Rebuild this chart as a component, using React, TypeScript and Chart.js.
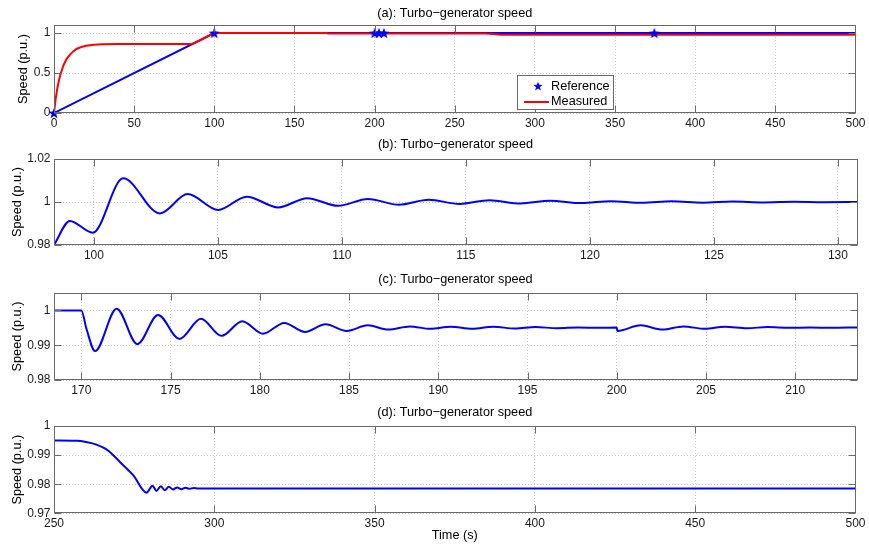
import React, { useEffect, useRef } from "react";
import { Chart, registerables } from "chart.js";

Chart.register(...registerables);

// ---------- Panel (a) ----------
const refTimeA = [0, 100, 200, 202.7, 205.8, 374.5, 500];
const refSpeedA = [0, 1, 1, 1, 1, 1, 1];
const refMarkerA = [true, true, true, true, true, true, false];
const measTimeA = [0, 1, 2, 3, 4, 5, 6, 8, 10, 12, 14, 17, 20, 25, 30, 40, 50, 86.5, 100, 170, 171, 269, 274, 279, 283, 500];
const measSpeedA = [0, 0.17, 0.3, 0.4, 0.48, 0.54, 0.6, 0.68, 0.73, 0.77, 0.8, 0.825, 0.84, 0.852, 0.858, 0.862, 0.863, 0.864, 1.0, 1.0, 0.995, 0.995, 0.986, 0.978, 0.979, 0.979];
const xTicksA = [0, 50, 100, 150, 200, 250, 300, 350, 400, 450, 500];
const yTicksA = [0, 0.5, 1];

// ---------- Panel (b) ----------
const timeB = [98.39, 99.03, 99.95, 101.18, 102.66, 103.78, 105.01, 106.16, 107.43, 108.6, 109.85, 111.05, 112.3, 113.5, 114.75, 115.95, 117.2, 118.4, 119.65, 120.85, 122.1, 123.3, 124.55, 125.75, 127.0, 128.2, 129.45, 130.77];
const speedB = [0.98, 0.9912, 0.9857, 1.011, 0.9947, 1.0037, 0.9963, 1.0025, 0.9975, 1.0018, 0.9982, 1.0014, 0.9987, 1.001, 0.9991, 1.0008, 0.9993, 1.0006, 0.9995, 1.0004, 0.9996, 1.0003, 0.9997, 1.0002, 0.9998, 1.0001, 0.9999, 1.0];
const xTicksB = [100, 105, 110, 115, 120, 125, 130];
const yTicksB = [0.98, 1, 1.02];

// ---------- Panel (c) ----------
const timeC = [168.47, 170.0, 170.3, 170.77, 171.98, 173.14, 174.3, 175.5, 176.7, 177.86, 179.02, 180.18, 181.37, 182.53, 183.68, 184.87, 186.05, 187.2, 188.4, 189.55, 190.7, 191.9, 193.08, 194.3, 195.45, 196.65, 197.85, 199.0, 200.0, 200.03, 201.34, 202.55, 203.73, 204.94, 206.06, 207.3, 208.45, 209.65, 210.85, 212.0, 213.46];
const speedC = [1.0, 1.0, 0.9945, 0.9883, 1.0005, 0.9903, 0.9987, 0.9918, 0.9976, 0.9927, 0.9969, 0.9933, 0.9964, 0.9938, 0.996, 0.9941, 0.9957, 0.9945, 0.9954, 0.9947, 0.9953, 0.9947, 0.9953, 0.9948, 0.9952, 0.9949, 0.9951, 0.995, 0.9951, 0.9941, 0.9957, 0.9945, 0.9954, 0.9947, 0.9953, 0.9949, 0.9952, 0.995, 0.9951, 0.995, 0.9951];
const xTicksC = [170, 175, 180, 185, 190, 195, 200, 205, 210];
const yTicksC = [0.98, 0.99, 1];

// ---------- Panel (d) ----------
const timeD = [250, 257, 260, 263, 266, 268, 270.5, 274.7, 278.86, 280.72, 281.96, 283.31, 284.56, 285.8, 287.15, 288.4, 289.75, 291.0, 292.3, 293.6, 295, 300, 500];
const speedD = [0.995, 0.9949, 0.9945, 0.9937, 0.9922, 0.9905, 0.9877, 0.9831, 0.9771, 0.9795, 0.9777, 0.9793, 0.9779, 0.9791, 0.9782, 0.9789, 0.9783, 0.9788, 0.9784, 0.9787, 0.97855, 0.97855, 0.97855];
const xTicksD = [250, 300, 350, 400, 450, 500];
const yTicksD = [0.97, 0.98, 0.99, 1];

const FONT = "'Liberation Sans', Arial, Helvetica, sans-serif";
const LABEL_SIZE = 12.7;
const BOX_COLOR = "#6a6a6a";
const BLUE = "#0000ff";
const RED = "#ff0000";

Chart.defaults.font.family = FONT;
Chart.defaults.color = "#000";

const toXY = (xs: number[], ys: number[]) => xs.map((x, i) => ({ x, y: ys[i] }));

function makeStar(size: number, color: string) {
  const c = document.createElement("canvas");
  c.width = size;
  c.height = size;
  const ctx = c.getContext("2d")!;
  const cx = size / 2, cy = size / 2 + 0.5;
  const R = size / 2 - 0.2, r = R * 0.42;
  ctx.beginPath();
  for (let i = 0; i < 10; i++) {
    const ang = -Math.PI / 2 + (i * Math.PI) / 5;
    const rad = i % 2 === 0 ? R : r;
    ctx.lineTo(cx + rad * Math.cos(ang), cy + rad * Math.sin(ang));
  }
  ctx.closePath();
  ctx.fillStyle = color;
  ctx.fill();
  return c;
}

const boxPlugin = {
  id: "matlabBox",
  afterDraw(chart: any) {
    const { ctx, chartArea: a, scales } = chart;
    const L = Math.round(a.left) + 0.5;
    const R = Math.round(a.right) + 0.5;
    const T = Math.round(a.top) + 0.5;
    const B = Math.round(a.bottom) - 0.5;
    const tl = 7;
    ctx.save();
    ctx.strokeStyle = BOX_COLOR;
    ctx.lineWidth = 1;
    ctx.beginPath();
    scales.x.ticks.forEach((t: any) => {
      const px = Math.round(scales.x.getPixelForValue(t.value)) + 0.5;
      ctx.moveTo(px, B); ctx.lineTo(px, B - tl);
      ctx.moveTo(px, T); ctx.lineTo(px, T + tl);
    });
    scales.y.ticks.forEach((t: any) => {
      const py = Math.round(scales.y.getPixelForValue(t.value)) + 0.5;
      ctx.moveTo(L, py); ctx.lineTo(L + tl, py);
      ctx.moveTo(R, py); ctx.lineTo(R - tl, py);
    });
    ctx.stroke();
    ctx.strokeRect(L, T, R - L, B - T);
    ctx.restore();
  },
};

function makeLegendPlugin(star: HTMLCanvasElement) {
  return {
    id: "insetLegend",
    afterDraw(chart: any) {
      const { ctx } = chart;
      const ds = chart.data.datasets;
      const bx = 517, by = 75, bw = 97, bh = 35;
      ctx.save();
      ctx.fillStyle = "#fff";
      ctx.fillRect(bx, by, bw, bh);
      ctx.strokeStyle = BOX_COLOR;
      ctx.lineWidth = 1;
      ctx.strokeRect(bx + 0.5, by + 0.5, bw - 1, bh - 1);
      ctx.drawImage(star, 538 - star.width / 2, 86 - star.height / 2);
      ctx.strokeStyle = RED;
      ctx.lineWidth = 2;
      ctx.beginPath();
      ctx.moveTo(524, 102);
      ctx.lineTo(549, 102);
      ctx.stroke();
      ctx.fillStyle = "#000";
      ctx.font = `${LABEL_SIZE}px ${FONT}`;
      ctx.textBaseline = "middle";
      ctx.textAlign = "left";
      ctx.fillText(ds[0].label, 551, 86);
      ctx.fillText(ds[1].label, 551, 101.5);
      ctx.restore();
    },
  };
}

type PanelCfg = {
  key: string;
  top: number;
  height: number;
  title: string;
  tp: [number, number];
  xh: number;
  ytp: number;
  xmin: number; xmax: number; ymin: number; ymax: number;
  xTicks: number[]; yTicks: number[];
  datasets: () => any[];
  xTitle?: string;
  legend?: boolean;
};

function Panel({ cfg }: { cfg: PanelCfg }) {
  const ref = useRef<HTMLCanvasElement>(null);
  useEffect(() => {
    const star = makeStar(12, BLUE);
    const gridCommon = { color: "#c8c8c8", lineWidth: 1, drawTicks: false };
    const borderCommon = { display: false, dash: [1, 2] };
    const tickFont = { size: 12, family: FONT };
    const plugins: any[] = [boxPlugin];
    if (cfg.legend) plugins.push(makeLegendPlugin(makeStar(10, BLUE)));
    const datasets = cfg.datasets().map((d: any) =>
      d.__star ? { ...d, pointStyle: star } : d
    );
    const chart = new Chart(ref.current!, {
      type: "line",
      data: { datasets },
      options: {
        animation: false,
        responsive: false,
        devicePixelRatio: 1,
        layout: { padding: { left: 0, right: 12, top: 0, bottom: 0 } },
        elements: { point: { radius: 0 } },
        plugins: {
          legend: { display: false },
          tooltip: { enabled: false },
          title: {
            display: true,
            text: cfg.title,
            fullSize: false,
            color: "#000",
            font: { size: LABEL_SIZE, weight: "normal", family: FONT },
            padding: { top: cfg.tp[0], bottom: cfg.tp[1] },
          },
        },
        scales: {
          x: {
            type: "linear",
            min: cfg.xmin,
            max: cfg.xmax,
            afterBuildTicks: (s: any) => { s.ticks = cfg.xTicks.map((v) => ({ value: v })); },
            afterFit: (s: any) => { s.height = cfg.xh; },
            grid: gridCommon,
            border: borderCommon,
            ticks: { padding: 3.5, color: "#1a1a1a", font: tickFont, maxRotation: 0, autoSkip: false, callback: (v: any) => String(v) },
            title: cfg.xTitle
              ? { display: true, text: cfg.xTitle, color: "#000", font: { size: LABEL_SIZE, family: FONT }, padding: { top: 0, bottom: 1.4 } }
              : { display: false },
          },
          y: {
            type: "linear",
            min: cfg.ymin,
            max: cfg.ymax,
            afterBuildTicks: (s: any) => { s.ticks = cfg.yTicks.map((v) => ({ value: v })); },
            afterFit: (s: any) => { s.width = 54; },
            grid: gridCommon,
            border: borderCommon,
            ticks: { padding: 3.5, color: "#1a1a1a", font: tickFont, autoSkip: false, callback: (v: any) => String(v) },
            title: { display: true, text: "Speed (p.u.)", color: "#000", font: { size: LABEL_SIZE, family: FONT }, padding: { top: cfg.ytp, bottom: 0 } },
          },
        },
      } as any,
      plugins,
    });
    return () => chart.destroy();
  }, []);
  return (
    <canvas
      ref={ref}
      width={869}
      height={cfg.height}
      style={{ position: "absolute", left: 0, top: cfg.top, width: 869, height: cfg.height }}
    />
  );
}

const TITLE = "Turbo\u2212generator speed";

const panels: PanelCfg[] = [
  {
    key: "a", top: 0, height: 135, title: `(a): ${TITLE}`, tp: [5.6, 4.16], xh: 22, ytp: 15.4,
    xmin: 0, xmax: 500, ymin: 0, ymax: 1.1, xTicks: xTicksA, yTicks: yTicksA, legend: true,
    datasets: () => [
      {
        label: "Reference", data: toXY(refTimeA, refSpeedA).filter((_, i) => refMarkerA[i]),
        showLine: false, pointRadius: 5, __star: true, order: 0, clip: false,
        borderColor: BLUE, backgroundColor: BLUE,
      },
      {
        label: "Measured", data: toXY(measTimeA, measSpeedA), borderColor: RED, borderWidth: 2,
        tension: 0, pointRadius: 0, order: 1,
      },
      {
        label: "Reference", data: toXY(refTimeA, refSpeedA), borderColor: BLUE, borderWidth: 2,
        tension: 0, pointRadius: 0, order: 2,
      },
    ],
  },
  {
    key: "b", top: 135, height: 135, title: `(b): ${TITLE}`, tp: [2.2, 6.56], xh: 25, ytp: 9.9,
    xmin: 98.39, xmax: 130.77, ymin: 0.98, ymax: 1.02, xTicks: xTicksB, yTicks: yTicksB,
    datasets: () => [
      { label: "Speed", data: toXY(timeB, speedB), borderColor: BLUE, borderWidth: 2, cubicInterpolationMode: "monotone", pointRadius: 0 },
    ],
  },
  {
    key: "c", top: 270, height: 130, title: `(c): ${TITLE}`, tp: [1.8, 5.96], xh: 20, ytp: 9.9,
    xmin: 168.47, xmax: 213.46, ymin: 0.98, ymax: 1.005, xTicks: xTicksC, yTicks: yTicksC,
    datasets: () => [
      { label: "Speed", data: toXY(timeC, speedC), borderColor: BLUE, borderWidth: 2, cubicInterpolationMode: "monotone", pointRadius: 0 },
    ],
  },
  {
    key: "d", top: 400, height: 145, title: `(d): ${TITLE}`, tp: [5.0, 5.76], xh: 31.7, ytp: 9.9,
    xmin: 250, xmax: 500, ymin: 0.97, ymax: 1.0, xTicks: xTicksD, yTicks: yTicksD, xTitle: "Time (s)",
    datasets: () => [
      { label: "Speed", data: toXY(timeD, speedD), borderColor: BLUE, borderWidth: 2, cubicInterpolationMode: "monotone", pointRadius: 0 },
    ],
  },
];

export default function App() {
  return (
    <div style={{ position: "absolute", left: 0, top: 0, width: 869, height: 545, background: "#fff" }}>
      {panels.map((p) => (
        <Panel key={p.key} cfg={p} />
      ))}
    </div>
  );
}
